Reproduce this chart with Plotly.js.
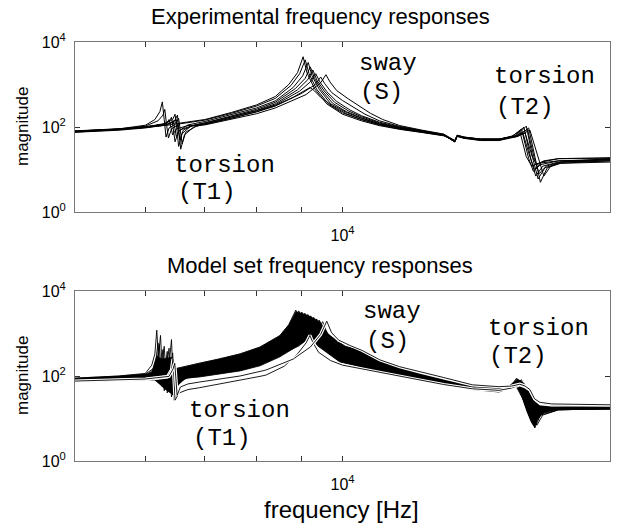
<!DOCTYPE html>
<html><head><meta charset="utf-8">
<script src="https://cdn.plot.ly/plotly-3.0.1.min.js"></script>
<style>body{margin:0;background:#fff}#chart{width:631px;height:529px}</style>
</head><body><div id="chart"></div>
<script>
// ---------- Experimental frequency responses: [frequency Hz, magnitude] ----------
const exp1 = [[5000,80],[5600,90],[6000,110],[6150,150],[6230,230],[6270,390],[6300,150],[6330,58],[6380,95],[6500,120],[7000,150],[7500,220],[8000,330],[8400,520],[8700,1000],[8900,1900],[9030,4500],[9120,1900],[9300,800],[9600,350],[10000,200],[10500,140],[11000,108],[11600,88],[12300,74],[13000,62],[13380,48],[13460,64],[13700,58],[14300,52],[15000,52],[15500,60],[15830,80],[15950,45],[16100,20],[16330,12],[16600,14],[17500,16],[20000,17]];
const exp2 = [[5000,78],[5600,88],[6000,105],[6200,140],[6280,190],[6310,260],[6340,110],[6370,55],[6420,90],[6550,118],[7000,145],[7500,210],[8000,310],[8400,470],[8750,950],[8950,1800],[9080,3800],[9170,1800],[9350,780],[9650,340],[10000,215],[10500,150],[11000,112],[11600,90],[12300,75],[13000,63],[13380,47],[13460,63],[13700,57],[14300,51],[15000,51],[15550,62],[15900,90],[16050,40],[16200,18],[16400,9],[16700,13],[17500,16],[20000,17]];
const exp3 = [[5000,76],[5600,86],[6000,98],[6300,118],[6390,140],[6420,170],[6450,90],[6480,45],[6540,80],[6700,112],[7000,135],[7500,195],[8000,280],[8400,410],[8800,850],[9020,1600],[9150,3300],[9240,1600],[9420,760],[9700,350],[10100,220],[10500,160],[11000,118],[11600,93],[12300,76],[13000,64],[13380,46],[13460,62],[13700,56],[14300,50],[15000,50],[15650,63],[16000,100],[16150,40],[16300,17],[16500,7],[16800,12],[17500,15],[20000,18]];
const exp4 = [[5000,79],[5600,89],[6000,100],[6300,115],[6440,150],[6480,200],[6510,90],[6540,35],[6600,70],[6750,105],[7000,125],[7500,180],[8000,260],[8400,380],[8850,800],[9080,1400],[9200,2600],[9300,1400],[9480,720],[9750,360],[10100,230],[10500,165],[11000,120],[11600,95],[12300,78],[13000,65],[13380,45],[13460,61],[13700,55],[14300,49],[15000,49],[15700,62],[16100,105],[16250,40],[16400,16],[16600,6],[16900,11],[17500,14],[20000,16]];
const exp5 = [[5000,77],[5600,87],[6000,97],[6350,112],[6480,145],[6520,190],[6550,80],[6575,30],[6640,65],[6800,100],[7000,118],[7500,170],[8000,245],[8400,350],[8900,750],[9140,1300],[9260,2200],[9360,1250],[9540,700],[9800,380],[10150,240],[10500,175],[11000,125],[11600,97],[12300,79],[13000,66],[13380,44],[13460,60],[13700,54],[14300,48],[15000,48],[15750,60],[16200,95],[16350,38],[16500,15],[16700,5],[17000,11],[17600,14],[20000,15]];
const exp6 = [[5000,81],[5600,91],[6000,102],[6350,118],[6470,135],[6500,150],[6530,90],[6560,50],[6620,85],[6800,110],[7000,125],[7500,175],[8000,240],[8400,330],[8950,700],[9200,1150],[9330,1800],[9430,1150],[9600,680],[9850,400],[10200,250],[10500,185],[11000,130],[11600,100],[12300,80],[13000,66],[13380,46],[13460,62],[13700,56],[14300,51],[15000,51],[15600,60],[15950,75],[16100,38],[16250,20],[16450,10],[16750,15],[17500,18],[20000,19]];
const exp7 = [[5000,75],[5600,84],[6000,95],[6300,110],[6420,125],[6450,140],[6480,90],[6500,60],[6560,85],[6750,105],[7000,118],[7500,160],[8000,230],[8400,320],[8800,500],[9050,720],[9190,850],[9290,720],[9450,500],[9750,310],[10100,205],[10500,150],[11000,115],[11600,92],[12300,77],[13000,64],[13380,45],[13460,61],[13700,55],[14300,50],[15000,50],[15800,62],[16250,85],[16450,35],[16650,16],[16850,7],[17150,12],[17700,15],[20000,17]];
const exp8 = [[5000,78],[5600,88],[6000,99],[6400,112],[6510,130],[6540,160],[6570,80],[6600,40],[6660,75],[6850,105],[7000,115],[7500,160],[8000,225],[8400,310],[9000,620],[9320,1000],[9450,1500],[9550,1050],[9720,650],[10000,420],[10300,290],[10600,200],[11000,140],[11600,103],[12300,82],[13000,67],[13380,47],[13460,63],[13700,57],[14300,52],[15000,52],[15650,59],[16050,72],[16200,36],[16350,20],[16550,13],[16850,16],[17500,18],[20000,18]];
const exp9 = [[5000,80],[5600,89],[6000,100],[6300,120],[6360,135],[6380,150],[6410,100],[6440,65],[6500,90],[6700,108],[7000,112],[7500,150],[8000,205],[8400,280],[9100,580],[9450,1100],[9580,1700],[9680,1150],[9850,720],[10150,460],[10450,310],[10750,210],[11100,150],[11600,108],[12300,84],[13000,68],[13380,48],[13460,64],[13700,58],[14300,52],[15000,52],[15700,61],[16150,88],[16300,36],[16450,17],[16650,8],[16950,12],[17600,15],[20000,16]];
const expSet = [exp1, exp2, exp3, exp4, exp5, exp6, exp7, exp8, exp9];

// ---------- Model set frequency responses ----------
const model0 = [[5000,89],[5600,100],[6000,115],[6100,180],[6150,330],[6180,1200],[6215,160],[6260,60],[6320,110],[6500,150],[6900,200],[7280,251],[7667,331],[8075,479],[8500,891],[8700,1600],[8860,3550],[8970,1700],[9170,800],[9390,500],[9930,214],[10461,166],[11016,126],[11600,100],[12300,79],[13000,63],[14000,48],[15000,42],[15400,52],[15700,89],[15900,45],[16100,18],[16300,9],[16550,14],[17500,18],[20000,19]];
const model1 = [[5000,87],[5600,97],[6000,110],[6150,160],[6210,300],[6240,900],[6270,130],[6300,45],[6360,100],[6550,140],[6900,184],[7280,230],[7667,299],[8075,428],[8500,784],[8780,1500],[8930,3400],[9040,1650],[9240,790],[9470,500],[9930,238],[10461,183],[11016,134],[11600,105],[12300,83],[13000,66],[14000,49],[15000,43],[15450,52],[15750,85],[15950,42],[16150,17],[16400,7],[16650,13],[17500,17],[20000,18]];
const model2 = [[5000,85],[5600,94],[6000,104],[6300,130],[6390,250],[6420,720],[6440,100],[6460,27],[6520,80],[6700,140],[6900,169],[7280,210],[7667,270],[8075,382],[8500,690],[8850,1450],[9000,3200],[9110,1550],[9310,780],[9540,500],[9930,265],[10461,201],[11016,143],[11600,111],[12300,86],[13000,68],[14000,50],[15000,44],[15500,53],[15800,80],[16000,40],[16200,16],[16460,6],[16700,12],[17500,16],[20000,17]];
const model3 = [[5000,83],[5600,91],[6000,100],[6200,130],[6270,220],[6300,500],[6325,110],[6350,40],[6410,85],[6600,125],[6900,156],[7280,192],[7667,244],[8075,341],[8500,607],[8920,1350],[9070,3000],[9180,1450],[9390,770],[9610,500],[9930,295],[10461,222],[11016,152],[11600,117],[12300,90],[13000,71],[14000,52],[15000,46],[15350,52],[15650,75],[15850,42],[16050,20],[16350,10],[16600,15],[17500,17],[20000,18]];
const model4 = [[5000,81],[5600,88],[6000,96],[6250,115],[6350,200],[6380,450],[6400,100],[6420,32],[6480,75],[6650,118],[6900,144],[7280,175],[7667,220],[8075,305],[8500,535],[8700,700],[8990,1300],[9140,2800],[9250,1400],[9460,760],[9690,500],[9930,329],[10461,245],[11016,163],[11600,123],[12300,95],[13000,74],[14000,53],[15000,47],[15550,54],[15850,78],[16050,38],[16250,17],[16500,8],[16750,13],[17500,16],[20000,17]];
const model5 = [[5000,79],[5600,86],[6000,97],[6120,140],[6170,260],[6200,600],[6235,120],[6270,55],[6330,90],[6500,115],[6900,132],[7280,161],[7667,199],[8075,273],[8500,470],[8750,640],[9060,1250],[9210,2600],[9320,1300],[9530,750],[9760,500],[10000,366],[10461,270],[11016,173],[11600,129],[12300,99],[13000,77],[14000,54],[15000,48],[15300,53],[15600,70],[15800,42],[16000,24],[16250,14],[16500,17],[17500,19],[20000,20]];
const model6 = [[5000,78],[5600,83],[6000,90],[6250,105],[6320,170],[6350,380],[6375,95],[6400,50],[6460,80],[6650,105],[6900,122],[7280,147],[7667,179],[8075,244],[8500,414],[8820,600],[9130,1200],[9280,2400],[9390,1200],[9600,740],[9840,510],[10461,297],[11016,185],[11600,136],[12300,103],[13000,80],[14000,55],[15000,50],[15450,53],[15750,72],[15950,38],[16150,21],[16400,11],[16650,16],[17500,18],[20000,19]];
const model7 = [[5000,76],[5600,81],[6000,87],[6200,100],[6250,170],[6280,420],[6305,95],[6330,48],[6390,75],[6600,98],[6900,112],[7280,134],[7667,162],[8075,218],[8500,364],[8880,560],[9200,1150],[9350,2200],[9460,1150],[9680,730],[9910,500],[10461,328],[11016,197],[11600,143],[12300,108],[13000,83],[14000,56],[15000,51],[15600,56],[15900,82],[16100,38],[16300,16],[16550,7],[16800,12],[17500,16],[20000,17]];
const model8 = [[5000,74],[5600,78],[6000,83],[6300,95],[6410,160],[6440,350],[6460,90],[6480,35],[6540,70],[6700,92],[6900,104],[7280,123],[7667,146],[8075,195],[8500,321],[8950,520],[9270,1100],[9420,2050],[9530,1050],[9750,720],[9990,500],[10461,361],[11016,210],[11600,151],[12300,113],[13000,86],[14000,58],[15000,53],[15400,55],[15700,76],[15900,40],[16100,22],[16350,12],[16600,16],[17500,17],[20000,18]];
const model9 = [[5000,72],[5600,76],[6000,82],[6140,110],[6190,230],[6220,550],[6255,110],[6290,58],[6350,80],[6550,90],[6900,95],[7280,112],[7667,132],[8075,174],[8500,282],[9020,600],[9350,1050],[9500,1900],[9610,1000],[9830,700],[10070,500],[10461,398],[11016,224],[11600,158],[12300,117],[13000,89],[14000,60],[15000,55],[15500,58],[15800,79],[16000,40],[16200,19],[16450,9],[16700,14],[17500,17],[20000,18]];
const modelSet = [model0, model1, model2, model3, model4, model5, model6, model7, model8, model9];
// two members that stand apart from the bundle (drawn with a white edge)
const modelOutA = [[5000,74],[5600,78],[6000,82],[6350,95],[6420,140],[6445,250],[6465,80],[6480,27],[6550,40],[6700,48],[6900,53],[7280,65],[7667,78],[8075,98],[8200,105],[8600,170],[8900,330],[9100,600],[9190,900],[9260,620],[9400,360],[9700,230],[10000,180],[10461,150],[11016,120],[11600,97],[12300,78],[13000,63],[14000,50],[15000,46],[15500,52],[15830,62],[16050,56],[16250,47],[16450,30],[16680,23],[17200,21],[20000,21]];
const modelOutB = [[5000,76],[5600,80],[6000,85],[6380,98],[6450,150],[6475,200],[6495,80],[6515,35],[6570,55],[6700,65],[6900,72],[7280,85],[7667,100],[8200,138],[8800,250],[9200,480],[9450,950],[9600,1950],[9720,1050],[9900,700],[10200,520],[10520,400],[11016,240],[11600,165],[12300,120],[13000,92],[14000,62],[15000,56],[15500,58],[15830,64],[16050,58],[16250,48],[16450,29],[16680,24],[17200,22],[20000,21]];
// edges of the dense black bundle of model responses
const modelUpper = [[5000,89],[5600,100],[6000,112],[6100,125],[6180,300],[6260,250],[6420,280],[6470,150],[6550,155],[6900,200],[7280,251],[7667,331],[8075,479],[8500,891],[8700,1600],[8860,3300],[9000,3000],[9140,2700],[9280,2300],[9420,1950],[9530,1400],[9650,950],[9830,700],[10070,500],[10461,398],[11016,224],[11600,158],[12300,117],[13000,89],[14000,60],[15000,55],[15400,58],[15730,85],[16000,68],[16250,45],[16460,25],[16700,20],[17500,19],[20000,20]];
const modelLower = [[5000,72],[5600,76],[6000,79],[6150,78],[6230,62],[6300,50],[6450,35],[6480,30],[6530,60],[6650,85],[6900,95],[7280,112],[7667,132],[8075,174],[8500,282],[8860,480],[9020,600],[9170,780],[9300,640],[9390,500],[9930,214],[10461,166],[11016,126],[11600,100],[12300,79],[13000,63],[14000,48],[15000,42],[15400,48],[15700,55],[15900,35],[16100,15],[16300,8],[16460,6],[16600,10],[16900,14],[17500,16],[20000,16]];

// ---------- axes / text ----------
const freqRange = [5000, 20000];
const magRange = [1, 10000];
const xTickVals = [10000];
const xTickText = ['10<sup>4</sup>'];
const xMinorVals = [6000, 7000, 8000, 9000];
const yTickVals = [1, 100, 10000];
const yTickText = ['10<sup>0</sup>', '10<sup>2</sup>', '10<sup>4</sup>'];
const panelTitles = ['Experimental frequency responses', 'Model set frequency responses'];
const xLabel = 'frequency [Hz]';
const yLabel = 'magnitude';
const modeLabels = [
  {text:'sway', px:357, py:63}, {text:'(S)', px:358, py:93},
  {text:'torsion', px:492, py:76}, {text:'(T2)', px:494, py:107},
  {text:'torsion', px:172, py:165}, {text:'(T1)', px:176, py:192},
  {text:'sway', px:361, py:311}, {text:'(S)', px:364, py:341},
  {text:'torsion', px:486, py:328}, {text:'(T2)', px:487, py:356},
  {text:'torsion', px:187, py:410}, {text:'(T1)', px:191, py:438}
];

// ---------- build ----------
const L = 75, R = 610, T = 42, B = 461;
const px2paper = (px, py) => ({x: (px - L) / (R - L), y: (B - py) / (B - T)});
const xs = c => c.map(p => p[0]);
const ys = c => c.map(p => p[1]);
const traces = [];
expSet.forEach(c => traces.push({x: xs(c), y: ys(c), mode:'lines', line:{color:'#000', width:1.0},
  xaxis:'x', yaxis:'y', hoverinfo:'skip', showlegend:false}));
traces.push({x: xs(modelLower), y: ys(modelLower), mode:'lines', line:{width:0, color:'#000'},
  xaxis:'x2', yaxis:'y2', hoverinfo:'skip', showlegend:false});
traces.push({x: xs(modelUpper), y: ys(modelUpper), mode:'lines', line:{width:0.5, color:'#000'},
  fill:'tonexty', fillcolor:'#000', xaxis:'x2', yaxis:'y2', hoverinfo:'skip', showlegend:false});
modelSet.forEach(c => traces.push({x: xs(c), y: ys(c), mode:'lines', line:{color:'#000', width:0.9},
  xaxis:'x2', yaxis:'y2', hoverinfo:'skip', showlegend:false}));
[modelOutA, modelOutB].forEach(c => {
  traces.push({x: xs(c), y: ys(c), mode:'lines', line:{color:'#fff', width:3.2},
    xaxis:'x2', yaxis:'y2', hoverinfo:'skip', showlegend:false});
  traces.push({x: xs(c), y: ys(c), mode:'lines', line:{color:'#000', width:0.9},
    xaxis:'x2', yaxis:'y2', hoverinfo:'skip', showlegend:false});
});

const tickFont = {family:'Liberation Sans, Arial, sans-serif', size:16, color:'#000'};
const xAxis = (anchor) => ({type:'log', range:[Math.log10(freqRange[0]), Math.log10(freqRange[1])],
  tickmode:'array', tickvals:xTickVals, ticktext:xTickText, ticks:'inside', ticklen:5, tickcolor:'#333', tickwidth:1,
  minor:{tickmode:'array', tickvals:xMinorVals, ticks:'inside', ticklen:5, tickcolor:'#333', tickwidth:1, showgrid:false},
  showline:true, linecolor:'#777', linewidth:1, mirror:'allticks', showgrid:false, zeroline:false,
  tickfont:tickFont, ticklabelstandoff:9, anchor:anchor, domain:[0,1]});
const yAxis = (anchor, dom) => ({type:'log', range:[Math.log10(magRange[0]), Math.log10(magRange[1])],
  tickmode:'array', tickvals:yTickVals, ticktext:yTickText, ticks:'inside', ticklen:5, tickcolor:'#333', tickwidth:1,
  showline:true, linecolor:'#777', linewidth:1, mirror:'allticks', showgrid:false, zeroline:false,
  tickfont:tickFont, ticklabelstandoff:5, anchor:anchor, domain:dom});

const titleFont = {family:'Liberation Sans, Arial, sans-serif', size:22, color:'#000'};
const labelFont = {family:'Liberation Sans, Arial, sans-serif', size:24, color:'#000'};
const monoFont = {family:'Liberation Mono, Courier New, monospace', size:24, color:'#000'};
const annotations = [];
[[320, 17], [320, 265]].forEach((p, i) => {
  const q = px2paper(p[0], p[1]);
  annotations.push({text:panelTitles[i], xref:'paper', yref:'paper', x:q.x, y:q.y,
    xanchor:'center', yanchor:'middle', showarrow:false, font:titleFont});
});
[127, 376].forEach(py => {
  const q = px2paper(22, py);
  annotations.push({text:yLabel, xref:'paper', yref:'paper', x:q.x, y:q.y, textangle:-90,
    xanchor:'center', yanchor:'middle', showarrow:false,
    font:{family:'Liberation Sans, Arial, sans-serif', size:17, color:'#000'}});
});
{
  const q = px2paper(341, 509);
  annotations.push({text:xLabel, xref:'paper', yref:'paper', x:q.x, y:q.y,
    xanchor:'center', yanchor:'middle', showarrow:false, font:labelFont});
}
modeLabels.forEach(m => {
  const q = px2paper(m.px, m.py);
  annotations.push({text:m.text, xref:'paper', yref:'paper', x:q.x, y:q.y,
    xanchor:'left', yanchor:'middle', showarrow:false, font:monoFont});
});

const topDom = [(B - 212) / (B - T), 1];
const botDom = [0, (B - 291) / (B - T)];
const layout = {
  width:631, height:529, margin:{l:L, r:631 - R, t:T, b:529 - B},
  paper_bgcolor:'#fff', plot_bgcolor:'#fff', showlegend:false,
  xaxis: xAxis('y'), yaxis: yAxis('x', topDom),
  xaxis2: xAxis('y2'), yaxis2: yAxis('x2', botDom),
  annotations: annotations
};
Plotly.newPlot('chart', traces, layout, {staticPlot:true, displayModeBar:false});
</script>
</body></html>
